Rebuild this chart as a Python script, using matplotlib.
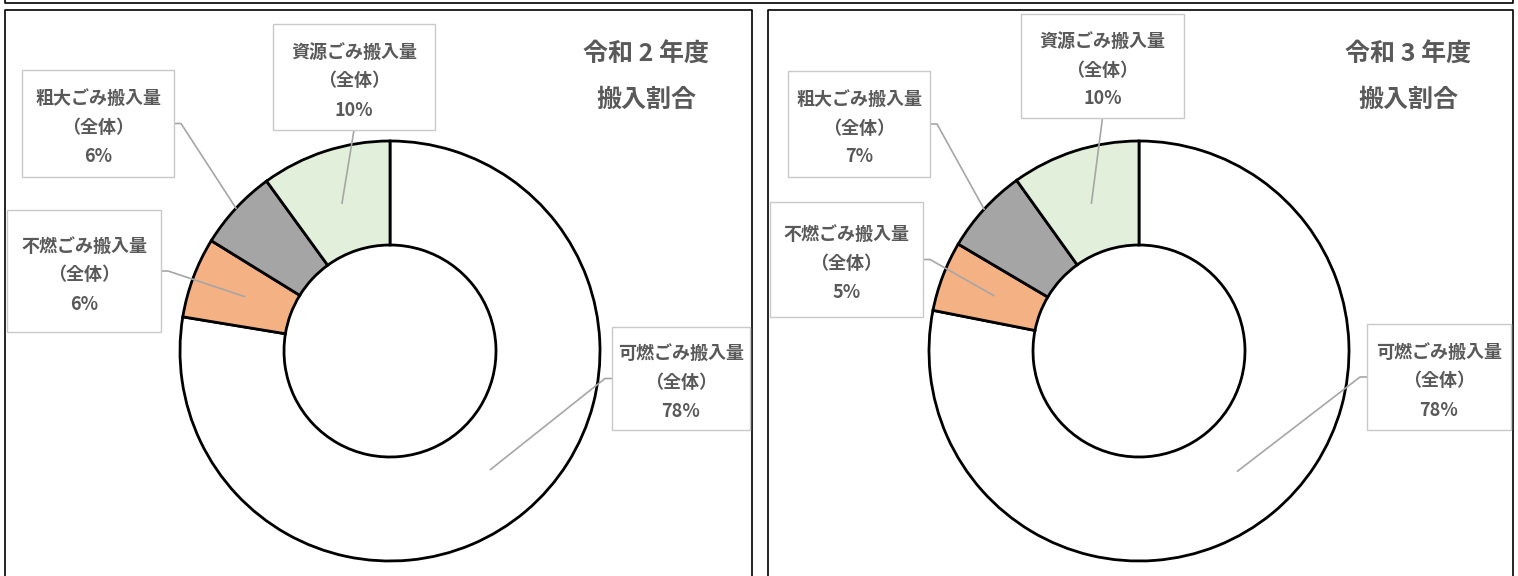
import numpy as np
import matplotlib
matplotlib.use("Agg")
import matplotlib.pyplot as plt
from matplotlib.patches import Rectangle

plt.rcParams['font.family'] = ['Noto Sans CJK JP', 'DejaVu Sans']

# data
categories = ['可燃ごみ搬入量', '不燃ごみ搬入量', '粗大ごみ搬入量', '資源ごみ搬入量']
sub_label = '（全体）'
titles = ['令和 2 年度', '令和 3 年度']
subtitle = '搬入割合'
r2_share = [77.6, 6.2, 6.2, 10.0]
r3_share = [78.1, 5.4, 6.6, 9.9]
colors = ['#FFFFFF', '#F4B183', '#A5A5A5', '#E2EFDA']

W, H = 1518, 576
TXT = '#595959'
LEAD = '#A6A6A6'


def Y(y):
    # pixel rows from the top -> data y
    return H - y


fig = plt.figure(figsize=(W / 100, H / 100), dpi=100)
ax = fig.add_axes([0, 0, 1, 1])

# outer frames
ax.plot([5, 5, 1513, 1513], [Y(-6), Y(3), Y(3), Y(-6)], color='black', lw=1.2, clip_on=False)
panels = [(5, 752), (768, 1513)]
for x0, x1 in panels:
    ax.plot([x0, x0, x1, x1], [Y(590), Y(10), Y(10), Y(590)], color='black', lw=1.2, clip_on=False)

# per panel layout: donut centre, title position, label boxes (x0, y0, x1, y1) in pixels from top-left
centres = [(390, 351), (1139, 351)]
title_x = [646, 1408]
boxes = [
    [(612, 327, 750, 430), (7, 210, 161, 332), (22, 70, 174, 177), (273, 24, 435, 130)],
    [(1367, 324, 1511, 430), (770, 202, 923, 317), (788, 71, 930, 177), (1021, 14, 1184, 118)],
]
sides = ['left', 'right', 'right', 'bottom']
reach = [0.74, 0.74, 1.0, 0.74]
R, ring = 210, 104

for p, vals in enumerate([r2_share, r3_share]):
    cx, cy = centres[p]
    wedges, _ = ax.pie(vals, colors=colors, startangle=90, counterclock=False,
                       center=(cx, Y(cy)), radius=R, frame=True,
                       wedgeprops=dict(width=ring, edgecolor='black', linewidth=2.0))
    for i, w in enumerate(wedges):
        bx0, by0, bx1, by1 = boxes[p][i]
        ax.add_patch(Rectangle((bx0, Y(by1)), bx1 - bx0, by1 - by0, facecolor='white',
                               edgecolor='#C9C9C9', lw=1.0, zorder=3))
        mx = (bx0 + bx1) / 2
        my = (by0 + by1) / 2 + 4
        pct = '{}%'.format(int(round(vals[i])))
        for k, line in enumerate([categories[i], sub_label, pct]):
            ax.text(mx, Y(my + (k - 1) * 29), line, ha='center', va='center',
                    fontsize=13, fontweight='bold', color=TXT, zorder=4)
        # leader line
        mid = np.deg2rad((w.theta1 + w.theta2) / 2)
        ex = cx + reach[i] * R * np.cos(mid)
        ey = Y(cy) + reach[i] * R * np.sin(mid)
        ym = Y((by0 + by1) / 2)
        if sides[i] == 'left':
            xs, ys = [bx0, bx0 - 7, ex], [ym, ym, ey]
        elif sides[i] == 'right':
            xs, ys = [bx1, bx1 + 7, ex], [ym, ym, ey]
        else:
            xs, ys = [mx, ex], [Y(by1), ey]
        ax.plot(xs, ys, color=LEAD, lw=1.2, zorder=2.5)

    ax.text(title_x[p], Y(55), titles[p], ha='center', va='center', fontsize=18,
            fontweight='bold', color=TXT)
    ax.text(title_x[p], Y(100), subtitle, ha='center', va='center', fontsize=18,
            fontweight='bold', color=TXT)

ax.set_xlim(0, W)
ax.set_ylim(0, H)
ax.set_aspect('auto')
ax.axis('off')

fig.savefig('out.png', dpi=100, facecolor='white')
